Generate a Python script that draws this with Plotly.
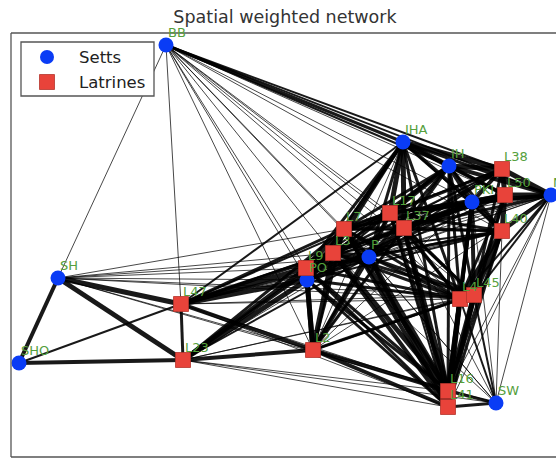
import plotly.graph_objects as go

# Node coordinates (spatial x/y)
sett_names = ["BB", "IHA", "IH", "PKI", "NE", "P", "PO", "SH", "SHO", "SW"]
sett_x = [166, 403, 449, 472, 551, 369, 307, 58, 19, 496]
sett_y = [414, 317, 293, 257, 264, 202, 179, 181, 96, 56]

latrine_names = ["L38", "L50", "L40", "L17", "L37", "L7", "L3", "L9", "L4",
                 "L45", "L16", "L41", "L47", "L23", "L2"]
latrine_x = [502, 505, 502, 390, 404, 344, 333, 306, 460, 474, 448, 448, 181, 183, 313]
latrine_y = [290, 264, 228, 246, 231, 230, 206, 191, 160, 164, 68, 52, 155, 99, 109]

# Weighted edges (source, target, weight)
edges = [
    # western setts and latrines
    ("SH", "SHO", 4), ("SH", "L47", 5), ("SH", "L23", 5), ("SHO", "L23", 4), ("SHO", "L47", 2),
    ("L47", "L23", 3), ("L47", "L2", 4), ("L23", "L2", 4),
    ("L47", "L9", 5), ("L47", "PO", 5), ("L47", "L3", 4), ("L47", "L7", 3), ("L47", "P", 3),
    ("L23", "PO", 5), ("L23", "L9", 4), ("L23", "L3", 4), ("L23", "L7", 3), ("L23", "P", 2),
    ("SH", "PO", 1), ("SH", "L9", 1), ("SH", "L3", 1), ("SH", "L7", 1), ("SH", "P", 1),
    ("SH", "L2", 1), ("SH", "L4", 1), ("SH", "L45", 1), ("SH", "L16", 1),
    ("L47", "L16", 1), ("L47", "L41", 1), ("L47", "L4", 1), ("L47", "L45", 1),
    ("L47", "L37", 2), ("L47", "L17", 2), ("L47", "IHA", 2), ("L47", "PKI", 1), ("L47", "L40", 1),
    ("L23", "L16", 1), ("L23", "L41", 1), ("L23", "SW", 1), ("L23", "L4", 1), ("L23", "L45", 1),
    ("L23", "L37", 1), ("L23", "L17", 1),
    # BB
    ("BB", "SH", 1), ("BB", "L47", 1), ("BB", "PO", 1), ("BB", "L9", 1), ("BB", "P", 1),
    ("BB", "L3", 1), ("BB", "L7", 1), ("BB", "L17", 1), ("BB", "L37", 1), ("BB", "PKI", 1),
    ("BB", "L50", 1), ("BB", "NE", 2), ("BB", "L40", 1), ("BB", "L4", 1), ("BB", "L45", 1),
    ("BB", "L2", 1), ("BB", "IHA", 3), ("BB", "IH", 2), ("BB", "L38", 2),
    # L2
    ("L2", "PO", 5), ("L2", "L9", 5), ("L2", "L3", 5), ("L2", "P", 4), ("L2", "L7", 3),
    ("L2", "L17", 3), ("L2", "L37", 3), ("L2", "L16", 4), ("L2", "L41", 4), ("L2", "L4", 3),
    ("L2", "L45", 2), ("L2", "SW", 1), ("L2", "IHA", 1), ("L2", "IH", 1), ("L2", "L38", 1),
    ("L2", "NE", 1),
    # central cluster
    ("L17", "L37", 5), ("L17", "L7", 5), ("L7", "L3", 5), ("L3", "L9", 5), ("L9", "PO", 5),
    ("L3", "PO", 5), ("L7", "PO", 4), ("P", "L3", 5), ("P", "L37", 5), ("P", "L17", 4),
    ("P", "L7", 4), ("P", "PO", 4), ("P", "L9", 4), ("L7", "L9", 4), ("L37", "L7", 4),
    ("L37", "L3", 3), ("L17", "L3", 3),
    # north-east group
    ("IHA", "IH", 5), ("IHA", "L38", 5), ("IH", "L38", 5), ("IH", "PKI", 5), ("L38", "L50", 5),
    ("L50", "NE", 5), ("L38", "NE", 5), ("L50", "L40", 5), ("L40", "NE", 4), ("PKI", "L50", 5),
    ("PKI", "L40", 5), ("PKI", "L38", 4), ("IHA", "NE", 3), ("IH", "NE", 4), ("IH", "L50", 4),
    ("IH", "L40", 3), ("IHA", "PKI", 4), ("IHA", "L50", 3), ("IHA", "L40", 2), ("PKI", "NE", 4),
    # links between cluster and north-east
    ("L37", "PKI", 5), ("L17", "IH", 5), ("IHA", "L17", 5), ("IHA", "L37", 5), ("IHA", "L7", 4),
    ("IHA", "L3", 3), ("IHA", "P", 3), ("IHA", "L9", 3), ("IHA", "PO", 3),
    ("IH", "L37", 4), ("IH", "L7", 3), ("IH", "P", 3), ("IH", "L3", 2), ("IH", "L9", 2), ("IH", "PO", 2),
    ("PKI", "L17", 4), ("PKI", "L7", 3), ("PKI", "P", 3), ("PKI", "L3", 2), ("PKI", "L9", 2), ("PKI", "PO", 2),
    ("L38", "L17", 3), ("L38", "L37", 3), ("L38", "L7", 2), ("L38", "L3", 2), ("L38", "P", 2),
    ("L38", "L9", 1), ("L38", "PO", 1),
    ("L50", "L17", 3), ("L50", "L37", 3), ("L50", "L7", 2), ("L50", "L3", 2), ("L50", "P", 2),
    ("L40", "L37", 3), ("L40", "L17", 3), ("L40", "P", 3), ("L40", "L7", 2), ("L40", "L3", 2),
    ("L40", "L9", 2), ("L40", "PO", 2),
    ("NE", "L17", 3), ("NE", "L37", 3), ("NE", "L7", 1), ("NE", "L3", 1), ("NE", "P", 1),
    ("NE", "L9", 1), ("NE", "PO", 1),
    # southern latrines
    ("L4", "L45", 5), ("L16", "L41", 5), ("L4", "L16", 5), ("L45", "L16", 5), ("L4", "L41", 5),
    ("L45", "L41", 5), ("L4", "L40", 5), ("L45", "L40", 5), ("L4", "PKI", 4), ("L45", "PKI", 4),
    ("L4", "L3", 3), ("L4", "L7", 3), ("L4", "L9", 3), ("L4", "PO", 3), ("L4", "P", 3),
    ("L4", "L37", 3), ("L4", "L17", 3), ("L45", "L3", 3), ("L45", "L7", 3), ("L45", "P", 3),
    ("L45", "L37", 3), ("L45", "L17", 3), ("L4", "IH", 3), ("L45", "IH", 3), ("L4", "IHA", 3),
    ("L45", "L38", 3), ("L45", "L50", 3), ("L4", "L50", 3), ("L4", "NE", 2), ("L45", "NE", 2),
    ("L16", "L3", 5), ("L16", "L7", 5), ("L16", "P", 5), ("L16", "L37", 5), ("L16", "L17", 4),
    ("L41", "L3", 4), ("L41", "L7", 4), ("L41", "P", 4), ("L41", "L37", 4), ("L16", "PKI", 4),
    ("L16", "IHA", 3), ("L16", "IH", 3), ("L16", "L9", 3), ("L16", "PO", 3), ("L41", "L9", 3),
    ("L41", "PO", 3), ("L16", "L40", 3), ("L16", "L50", 3), ("L41", "L40", 3), ("L41", "PKI", 3),
    ("L16", "NE", 1), ("L41", "NE", 1), ("L41", "L17", 2),
    # SW
    ("SW", "L16", 3), ("SW", "L41", 3), ("SW", "L4", 2), ("SW", "L45", 2), ("SW", "NE", 1),
    ("SW", "L40", 1), ("SW", "PKI", 1), ("SW", "L3", 1), ("SW", "P", 1), ("SW", "L37", 1),
    ("SW", "L7", 1),
]

pos = {}
for n, x, y in zip(sett_names, sett_x, sett_y):
    pos[n] = (x, y)
for n, x, y in zip(latrine_names, latrine_x, latrine_y):
    pos[n] = (x, y)

fig = go.Figure()

# edges: one trace per weight, line width scales with weight
for w in sorted({e[2] for e in edges}):
    xs, ys = [], []
    for u, v, ew in edges:
        if ew != w:
            continue
        xs += [pos[u][0], pos[v][0], None]
        ys += [pos[u][1], pos[v][1], None]
    fig.add_trace(go.Scatter(
        x=xs, y=ys, mode="lines", hoverinfo="skip", showlegend=False,
        line=dict(color="rgba(0,0,0,0.9)" if w > 1 else "rgba(0,0,0,0.72)", width=1.0 * w),
    ))

fig.add_trace(go.Scatter(
    x=sett_x, y=sett_y, mode="markers", name="Setts", showlegend=False,
    marker=dict(symbol="circle", size=15, color="#0a3cf5", line=dict(width=0)),
))
fig.add_trace(go.Scatter(
    x=latrine_x, y=latrine_y, mode="markers", name="Latrines", showlegend=False,
    marker=dict(symbol="square", size=15, color="#e8433a", line=dict(width=0.8, color="#b5352c")),
))

# node labels
annotations = []
for n, (x, y) in pos.items():
    annotations.append(dict(
        x=x, y=y, xref="x", yref="y", text=n, showarrow=False,
        xanchor="left", yanchor="middle", xshift=0, yshift=13,
        font=dict(family="DejaVu Sans", size=13, color="#55a03c"),
    ))

# legend box
annotations += [
    dict(x=77, y=459 - 57, xref="x", yref="y", text="Setts", showarrow=False,
         xanchor="left", yanchor="middle", font=dict(family="DejaVu Sans", size=16.5, color="#222")),
    dict(x=77, y=459 - 82, xref="x", yref="y", text="Latrines", showarrow=False,
         xanchor="left", yanchor="middle", font=dict(family="DejaVu Sans", size=16.5, color="#222")),
]
shapes = [
    dict(type="rect", xref="x", yref="y", x0=21, x1=154, y0=459 - 96, y1=459 - 42,
         line=dict(color="#555", width=1.3), fillcolor="white", layer="above"),
    dict(type="circle", xref="x", yref="y", x0=40, x1=54, y0=459 - 64, y1=459 - 50,
         line=dict(width=0), fillcolor="#0a3cf5", layer="above"),
    dict(type="rect", xref="x", yref="y", x0=39.5, x1=54.5, y0=459 - 89.5, y1=459 - 74.5,
         line=dict(width=0.8, color="#b5352c"), fillcolor="#e8433a", layer="above"),
    # axes frame (left, top, bottom)
    dict(type="line", xref="paper", yref="paper", x0=0, x1=0, y0=0, y1=1,
         line=dict(color="#555", width=1.3)),
    dict(type="line", xref="paper", yref="paper", x0=0, x1=1, y0=1, y1=1,
         line=dict(color="#555", width=1.3)),
    dict(type="line", xref="paper", yref="paper", x0=0, x1=1, y0=0, y1=0,
         line=dict(color="#555", width=1.3)),
]

fig.update_layout(
    width=556, height=459,
    margin=dict(l=11, r=0, t=33, b=2),
    paper_bgcolor="white", plot_bgcolor="white",
    title=dict(text="Spatial weighted network", x=285 / 556, xanchor="center",
               y=1 - 17 / 459, yanchor="middle",
               font=dict(family="DejaVu Sans", size=17.5, color="#333")),
    xaxis=dict(range=[11, 556], visible=False, fixedrange=True),
    yaxis=dict(range=[2, 426], visible=False, fixedrange=True),
    annotations=annotations, shapes=shapes,
    showlegend=False,
)

fig.write_html("out.html")
